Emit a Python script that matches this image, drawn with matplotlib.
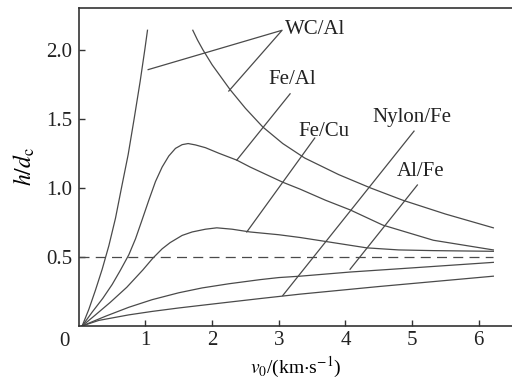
import matplotlib
matplotlib.use("Agg")
import matplotlib.pyplot as plt

plt.rcParams['font.family'] = ['Liberation Serif', 'DejaVu Serif']
plt.rcParams['mathtext.fontset'] = 'stix'

# curves (v0 in km/s, h/dc)
wcal_lo_x = [0.05, 0.15, 0.25, 0.35, 0.45, 0.55, 0.64, 0.74, 0.83, 0.92, 0.99, 1.03]
wcal_lo_y = [0.0, 0.12, 0.26, 0.41, 0.58, 0.78, 1.0, 1.24, 1.5, 1.77, 2.0, 2.14]
wcal_hi_x = [1.71, 1.78, 1.86, 2.0, 2.27, 2.5, 2.76, 3.06, 3.39, 3.9, 4.37, 4.86, 5.5, 6.22]
wcal_hi_y = [2.14, 2.07, 2.0, 1.89, 1.71, 1.575, 1.44, 1.32, 1.215, 1.095, 1.0, 0.91, 0.81, 0.71]

feal_x = [0.05, 0.2, 0.36, 0.5, 0.62, 0.75, 0.85, 0.94, 1.05, 1.15, 1.25, 1.35, 1.45,
          1.55, 1.64, 1.75, 1.9, 2.1, 2.37, 2.57, 3.06, 3.32, 3.7, 4.07, 4.56, 5.32, 6.22]
feal_y = [0.0, 0.1, 0.2, 0.3, 0.4, 0.515, 0.63, 0.755, 0.91, 1.045, 1.15, 1.23, 1.285,
          1.312, 1.32, 1.31, 1.29, 1.25, 1.20, 1.15, 1.04, 0.99, 0.91, 0.84, 0.73, 0.62, 0.55]

fecu_x = [0.05, 0.25, 0.47, 0.72, 0.96, 1.11, 1.25, 1.37, 1.55, 1.7, 1.9, 2.07, 2.3,
          2.57, 3.0, 3.32, 3.72, 4.32, 4.8, 5.32, 6.22]
fecu_y = [0.0, 0.08, 0.17, 0.28, 0.405, 0.49, 0.558, 0.603, 0.655, 0.68, 0.70, 0.71, 0.70,
          0.68, 0.66, 0.64, 0.61, 0.565, 0.55, 0.545, 0.54]

nylon_x = [0.05, 0.4, 0.75, 1.1, 1.5, 1.85, 2.25, 2.72, 3.0, 3.32, 4.07, 5.0, 6.22]
nylon_y = [0.0, 0.07, 0.135, 0.19, 0.24, 0.275, 0.305, 0.335, 0.35, 0.36, 0.39, 0.42, 0.46]

alfe_x = [0.05, 0.3, 0.75, 1.1, 1.5, 1.82, 2.25, 2.72, 3.32, 4.5, 6.22]
alfe_y = [0.0, 0.04, 0.08, 0.105, 0.13, 0.148, 0.172, 0.198, 0.23, 0.285, 0.36]

# labels and their leader lines
labels = ['WC/Al', 'Fe/Al', 'Fe/Cu', 'Nylon/Fe', 'Al/Fe']
label_x = [3.09, 2.84, 3.30, 4.41, 4.77]
label_y = [2.145, 1.78, 1.41, 1.51, 1.12]
leaders = [
    ([1.04, 3.05, 2.25], [1.855, 2.14, 1.70]),
    ([3.17, 2.37], [1.68, 1.20]),
    ([3.54, 2.52], [1.36, 0.68]),
    ([5.03, 3.06], [1.41, 0.22]),
    ([5.08, 4.07], [1.02, 0.41]),
]

fig = plt.figure(figsize=(5.12, 3.88), dpi=100)
ax = fig.add_axes([0.154, 0.160, 0.846, 0.819])

lc = '#4a4a4a'
lw = 0.9
for xs, ys in [(wcal_lo_x, wcal_lo_y), (wcal_hi_x, wcal_hi_y), (feal_x, feal_y),
               (fecu_x, fecu_y), (nylon_x, nylon_y), (alfe_x, alfe_y)]:
    ax.plot(xs, ys, color=lc, lw=lw, solid_joinstyle='round')

ax.plot([0, 6.22], [0.5, 0.5], color=lc, lw=lw, dashes=(8, 5))

for (xs, ys) in leaders:
    ax.plot(xs, ys, color=lc, lw=0.9)
for t, x, y in zip(labels, label_x, label_y):
    ax.text(x, y, t, fontsize=15, ha='left', va='center', color='#222222')

ax.set_xlim(0, 6.5)
ax.set_ylim(0, 2.3)
ax.spines['right'].set_visible(False)
for s in ['left', 'bottom', 'top']:
    ax.spines[s].set_color('#333333')
    ax.spines[s].set_linewidth(1.2)

ax.set_xticks([1, 2, 3, 4, 5, 6])
ax.set_yticks([0.5, 1.0, 1.5, 2.0])
ax.set_yticklabels(['0.5', '1.0', '1.5', '2.0'])
ax.tick_params(direction='in', length=4, width=1, colors='#333333',
               labelsize=15, labelcolor='#222222', pad=5)
ax.tick_params(axis='x', pad=4)
ax.tick_params(top=False, right=False)
ax.text(-0.21, -0.045, '0', fontsize=15, ha='center', va='top',
        color='#222222', clip_on=False, transform=ax.transData)

ax.set_xlabel(r'$v_0$/(km$\cdot$s$^{-1}$)', fontsize=14, labelpad=3)
ax.set_ylabel(r'$h/d_\mathrm{c}$', fontsize=17, labelpad=6)

fig.savefig('out.png', dpi=100)
